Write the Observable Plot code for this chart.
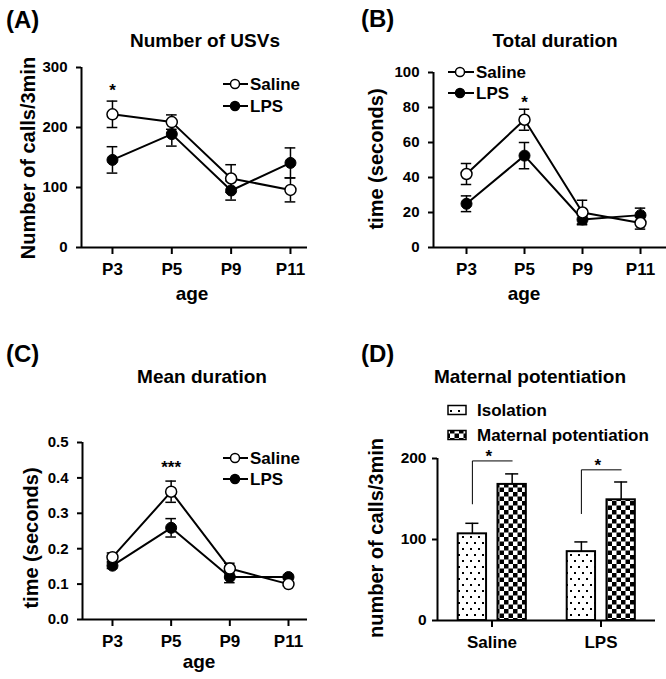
<!DOCTYPE html>
<html><head><meta charset="utf-8">
<script src="https://cdn.jsdelivr.net/npm/d3@7"></script>
<script src="https://cdn.jsdelivr.net/npm/@observablehq/plot@0.6"></script>
<style>
body{margin:0;background:#fff}
#fig{position:relative;width:666px;height:679px;overflow:hidden;background:#fff}
#fig svg{position:absolute;overflow:visible}
g[aria-label$="tick"]{stroke-width:2px}
.lp g[aria-label="x-axis tick label"]{font-size:17px !important}
.lp g[aria-label="y-axis tick label"]{font-size:15px !important}
.bp g[aria-label="x-axis tick label"]{font-size:17px !important}
.bp g[aria-label="y-axis tick label"]{font-size:15.5px !important}
</style></head><body><div id="fig"></div>
<script>
// ---- data ----
const ages = ["P3", "P5", "P9", "P11"];
const usvSaline = [222, 209, 115, 96];
const usvSalineErr = [22, 12, 23, 20];
const usvLPS = [146, 189, 95, 141];
const usvLPSErr = [22, 20, 16, 25];
const totSaline = [42, 73, 20, 14];
const totSalineErr = [6, 6, 7, 3.5];
const totLPS = [25, 52.5, 16, 18.5];
const totLPSErr = [4.5, 7.5, 2.5, 4];
const meanSaline = [0.176, 0.361, 0.144, 0.100];
const meanSalineErr = [0.012, 0.03, 0.015, 0.005];
const meanLPS = [0.152, 0.259, 0.12, 0.12];
const meanLPSErr = [0.008, 0.026, 0.016, 0.005];
const treatments = ["Saline", "LPS"];
const isolation = [107, 85];
const isolationErr = [13, 12];
const maternal = [168, 149];
const maternalErr = [13, 22];
const bracketLow = [144, 132];
const bracketHigh = [197, 186];

const FONT = '"Liberation Sans", Arial, Helvetica, sans-serif';
const fig = document.getElementById("fig");

function place(svg, left, top, cls) {
  svg.style.position = "absolute";
  svg.style.left = left + "px";
  svg.style.top = top + "px";
  svg.classList.add(cls);
  fig.appendChild(svg);
}
function txt(svg, x, y, s, o = {}) {
  const t = d3.select(svg).append("text")
    .text(s)
    .attr("font-family", FONT)
    .attr("font-size", o.size || 17)
    .attr("font-weight", "bold")
    .attr("fill", "black")
    .attr("stroke", "none")
    .attr("text-anchor", o.anchor || "start");
  if (o.rotate) t.attr("transform", `translate(${x},${y}) rotate(-90)`);
  else t.attr("x", x).attr("y", y);
  return t;
}
function lineLegend(svg, x0, x1, cx, tx, rows) {
  const g = d3.select(svg).append("g");
  rows.forEach(([y, label, filled]) => {
    g.append("line").attr("x1", x0).attr("x2", x1).attr("y1", y).attr("y2", y)
      .attr("stroke", "black").attr("stroke-width", 2);
    g.append("circle").attr("cx", cx).attr("cy", y).attr("r", 4.5)
      .attr("fill", filled ? "black" : "white").attr("stroke", "black").attr("stroke-width", 1.5);
    txt(svg, tx, y + 6, label, {size: 17});
  });
}

function linePanel(p) {
  const rows = (vals, errs, group) => vals.map((v, i) => ({i, v, e: errs[i], group}));
  const S = rows(p.saline, p.salineErr, "Saline");
  const L = rows(p.lps, p.lpsErr, "LPS");
  const all = [...L, ...S];
  const cap = 0.09;
  return Plot.plot({
    width: p.width, height: p.height,
    marginLeft: p.mL, marginRight: p.mR, marginTop: p.mT, marginBottom: p.mB,
    style: {fontFamily: FONT, fontSize: "15px", fontWeight: "bold", color: "black", overflow: "visible"},
    x: {type: "linear", domain: p.xDom, ticks: [0, 1, 2, 3], tickFormat: i => ages[i], tickSize: 7, tickPadding: 8, label: null},
    y: {domain: p.yDom, ticks: p.yTicks, tickFormat: p.yFmt, tickSize: 5, tickPadding: 9, label: null},
    marks: [
      Plot.ruleX(all, {x: "i", y1: d => d.v - d.e, y2: d => d.v + d.e, stroke: "black", strokeWidth: 1.5}),
      Plot.ruleY(all, {y: d => d.v + d.e, x1: d => d.i - cap, x2: d => d.i + cap, stroke: "black", strokeWidth: 1.5}),
      Plot.ruleY(all, {y: d => d.v - d.e, x1: d => d.i - cap, x2: d => d.i + cap, stroke: "black", strokeWidth: 1.5}),
      Plot.line(L, {x: "i", y: "v", stroke: "black", strokeWidth: 2}),
      Plot.line(S, {x: "i", y: "v", stroke: "black", strokeWidth: 2}),
      Plot.dot(L, {x: "i", y: "v", r: 5.5, fill: "black", stroke: "black", strokeWidth: 1}),
      Plot.dot(S, {x: "i", y: "v", r: 5.5, fill: "white", stroke: "black", strokeWidth: 1.5}),
      Plot.text(p.stars, {x: "i", y: "y", text: "s", fontSize: 17, fontWeight: "bold", fill: "black"}),
      Plot.ruleY([p.yDom[0]], {stroke: "black", strokeWidth: 2}),
      Plot.ruleX([p.xDom[0]], {stroke: "black", strokeWidth: 2})
    ]
  });
}

// ---- Panel A ----
const svgA = linePanel({
  width: 333, height: 330, mL: 81, mR: 26, mT: 67, mB: 83,
  xDom: [-0.522, 3.287], yDom: [0, 300], yTicks: [0, 100, 200, 300], yFmt: d3.format("d"),
  saline: usvSaline, salineErr: usvSalineErr, lps: usvLPS, lpsErr: usvLPSErr,
  stars: [{i: 0, y: 262, s: "*"}]
});
place(svgA, 0, 0, "lp");
txt(svgA, 6, 28, "(A)", {size: 24});
txt(svgA, 205, 47, "Number of USVs", {size: 19, anchor: "middle"});
txt(svgA, 35, 158, "Number of calls/3min", {size: 20, anchor: "middle", rotate: true});
txt(svgA, 192, 300, "age", {size: 19, anchor: "middle"});
lineLegend(svgA, 223, 248, 235, 250, [[84, "Saline", false], [106, "LPS", true]]);

// ---- Panel B ----
const svgB = linePanel({
  width: 333, height: 330, mL: 100, mR: 0, mT: 72, mB: 83,
  xDom: [-0.569, 3.448], yDom: [0, 100], yTicks: [0, 20, 40, 60, 80, 100], yFmt: d3.format("d"),
  saline: totSaline, salineErr: totSalineErr, lps: totLPS, lpsErr: totLPSErr,
  stars: [{i: 1, y: 83, s: "*"}]
});
place(svgB, 333, 0, "lp");
txt(svgB, 28, 27, "(B)", {size: 24});
txt(svgB, 222, 47, "Total duration", {size: 19, anchor: "middle"});
txt(svgB, 50, 159, "time (seconds)", {size: 20, anchor: "middle", rotate: true});
txt(svgB, 191, 300, "age", {size: 19, anchor: "middle"});
lineLegend(svgB, 115, 141, 127, 143, [[72, "Saline", false], [93, "LPS", true]]);

// ---- Panel C ----
const svgC = linePanel({
  width: 333, height: 349, mL: 82, mR: 26, mT: 112, mB: 60,
  xDom: [-0.511, 3.324], yDom: [0, 0.5], yTicks: [0, 0.1, 0.2, 0.3, 0.4, 0.5], yFmt: d3.format(".1f"),
  saline: meanSaline, salineErr: meanSalineErr, lps: meanLPS, lpsErr: meanLPSErr,
  stars: [{i: 1, y: 0.428, s: "***"}]
});
place(svgC, 0, 330, "lp");
txt(svgC, 6, 32, "(C)", {size: 24});
txt(svgC, 202, 53, "Mean duration", {size: 19, anchor: "middle"});
txt(svgC, 38, 208, "time (seconds)", {size: 20, anchor: "middle", rotate: true});
txt(svgC, 199, 338, "age", {size: 19, anchor: "middle"});
lineLegend(svgC, 223, 248, 235, 250, [[128, "Saline", false], [149, "LPS", true]]);

// ---- Panel D ----
const isoOff = [-0.31, -0.05], matOff = [0.055, 0.315];
const bars = treatments.flatMap((t, g) => [
  {g, v: isolation[g], e: isolationErr[g], a: g + isoOff[0], b: g + isoOff[1], fill: "url(#patDots)"},
  {g, v: maternal[g], e: maternalErr[g], a: g + matOff[0], b: g + matOff[1], fill: "url(#patCheck)"}
]);
const brackets = treatments.flatMap((t, g) => {
  const xi = g + (isoOff[0] + isoOff[1]) / 2, xm = g + (matOff[0] + matOff[1]) / 2;
  return [
    {g, x: xi, y: bracketLow[g]},
    {g, x: xi, y: bracketHigh[g]},
    {g, x: xm, y: bracketHigh[g]}
  ];
});
const starsD = treatments.map((t, g) => ({x: g - 0.03, y: bracketHigh[g], s: "*"}));
const capD = 0.06;
const svgD = Plot.plot({
  width: 333, height: 349, marginLeft: 104, marginRight: 11, marginTop: 128, marginBottom: 59,
  style: {fontFamily: FONT, fontSize: "15.5px", fontWeight: "bold", color: "black", overflow: "visible"},
  x: {type: "linear", domain: [-0.5, 1.5], ticks: [0, 1], tickFormat: i => treatments[i], tickSize: 7, tickPadding: 8, label: null},
  y: {domain: [0, 200], ticks: [0, 100, 200], tickFormat: d3.format("d"), tickSize: 5, tickPadding: 6, label: null},
  marks: [
    Plot.ruleX(bars, {x: d => (d.a + d.b) / 2, y1: "v", y2: d => d.v + d.e, stroke: "black", strokeWidth: 1.5}),
    Plot.ruleY(bars, {y: d => d.v + d.e, x1: d => (d.a + d.b) / 2 - capD, x2: d => (d.a + d.b) / 2 + capD, stroke: "black", strokeWidth: 1.5}),
    Plot.rectY(bars, {x1: "a", x2: "b", y1: 0, y2: "v", fill: "fill", stroke: "black", strokeWidth: 2}),
    Plot.line(brackets, {x: "x", y: "y", z: "g", stroke: "black", strokeWidth: 1}),
    Plot.text(starsD, {x: "x", y: "y", text: "s", dy: -4, fontSize: 17, fontWeight: "bold", fill: "black"}),
    Plot.ruleY([0], {stroke: "black", strokeWidth: 2}),
    Plot.ruleX([-0.5], {stroke: "black", strokeWidth: 2})
  ]
});
// patterns
const defs = d3.select(svgD).insert("defs", ":first-child");
const pd = defs.append("pattern").attr("id", "patDots").attr("patternUnits", "userSpaceOnUse")
  .attr("width", 8).attr("height", 12);
pd.append("rect").attr("width", 8).attr("height", 12).attr("fill", "white");
pd.append("rect").attr("x", 1).attr("y", 2).attr("width", 2).attr("height", 2).attr("fill", "black");
pd.append("rect").attr("x", 5).attr("y", 8).attr("width", 2).attr("height", 2).attr("fill", "black");
const pc = defs.append("pattern").attr("id", "patCheck").attr("patternUnits", "userSpaceOnUse")
  .attr("width", 9).attr("height", 9);
pc.append("rect").attr("width", 9).attr("height", 9).attr("fill", "white");
pc.append("rect").attr("width", 4.5).attr("height", 4.5).attr("fill", "black");
pc.append("rect").attr("x", 4.5).attr("y", 4.5).attr("width", 4.5).attr("height", 4.5).attr("fill", "black");
place(svgD, 333, 330, "bp");
txt(svgD, 28, 32, "(D)", {size: 24});
txt(svgD, 197, 53, "Maternal potentiation", {size: 19, anchor: "middle"});
txt(svgD, 50, 208, "number of calls/3min", {size: 20, anchor: "middle", rotate: true});
// legend D
const lgD = d3.select(svgD).append("g");
[[80, "Isolation", "url(#patDots)"], [105, "Maternal potentiation", "url(#patCheck)"]].forEach(([y, label, f]) => {
  lgD.append("rect").attr("x", 115).attr("y", y - 4.5).attr("width", 18).attr("height", 9)
    .attr("fill", f).attr("stroke", "black").attr("stroke-width", 1.5);
  txt(svgD, 144, y + 6, label, {size: 17});
});
</script></body></html>
